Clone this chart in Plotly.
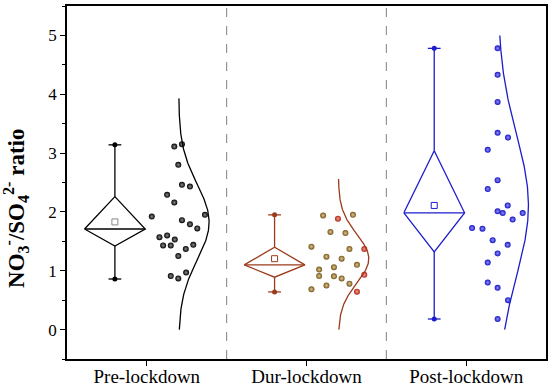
import numpy as np
import plotly.graph_objects as go

categories = ["Pre-lockdown", "Dur-lockdown", "Post-lockdown"]

# ratio values
pre_vals = [3.11, 3.15, 2.80, 2.46, 2.43, 2.29, 2.16, 1.95, 1.92, 1.86, 1.79, 1.72,
            1.57, 1.60, 1.53, 1.43, 1.43, 1.44, 1.37, 1.25, 0.91, 0.87, 0.97]
pre_jit = [0.172, 0.22, 0.197, 0.22, 0.27, 0.127, 0.172, 0.364, 0.031, 0.22, 0.27, 0.316,
           0.079, 0.127, 0.175, 0.102, 0.15, 0.291, 0.244, 0.197, 0.15, 0.197, 0.246]

dur_vals = [1.94, 1.885, 1.95, 1.66, 1.64, 1.41, 1.37, 1.37, 1.24, 1.205, 1.02,
            1.06, 1.10, 0.91, 0.905, 0.87, 0.93, 0.78, 0.685, 0.75, 0.645]
dur_jit = [0.104, 0.197, 0.291, 0.15, 0.244, 0.031, 0.269, 0.362, 0.125, 0.22, 0.079,
           0.172, 0.316, 0.079, 0.172, 0.22, 0.362, 0.269, 0.031, 0.125, 0.316]
dur_red = [1, 7, 16, 20]

post_vals = [4.78, 4.33, 3.87, 3.345, 3.265, 3.055, 2.54, 2.39, 2.11, 2.01, 1.98, 1.87,
             1.98, 1.725, 1.715, 1.52, 1.44, 1.295, 1.14, 0.80, 0.71, 0.50, 0.18]
post_jit = [0.197, 0.197, 0.197, 0.197, 0.262, 0.135, 0.197, 0.135, 0.26, 0.197, 0.229,
            0.291, 0.354, 0.037, 0.102, 0.166, 0.26, 0.197, 0.135, 0.135, 0.197, 0.262, 0.197]

# box (diamond) statistics
q1 = [1.42, 0.89, 1.32]
median = [1.71, 1.10, 1.985]
q3 = [2.26, 1.40, 3.04]
mean = [1.83, 1.205, 2.11]
vmin = [0.86, 0.64, 0.18]
vmax = [3.14, 1.95, 4.78]

# vertical extent of the distribution curves
curve_lo = [0.0, 0.0, 0.0]
curve_hi = [3.93, 2.56, 5.0]

values = [pre_vals, dur_vals, post_vals]
jitters = [pre_jit, dur_jit, post_jit]

line_colors = ["#000000", "#9c3b1b", "#1c1ccc"]
dot_colors = ["#000000", "#74541c", "#1414c0"]
dot_hi = ["#8c8c8c", "#e0c890", "#9090ff"]
mean_colors = ["#888888", "#9c3b1b", "#1c1ccc"]

BOX_OFF = -0.2
HALF_W = 0.19
CAP = 0.04
CURVE_OFF = 0.2
CURVE_AMP = 0.19
SERIF = "Times New Roman, Liberation Serif, serif"

fig = go.Figure()
for i, cat in enumerate(categories):
    c = i + 1
    bc = c + BOX_OFF
    w = HALF_W
    lc = line_colors[i]
    xs = [bc - w, bc, bc + w, bc, bc - w, None, bc - w, bc + w, None,
          bc, bc, None, bc, bc, None, bc - CAP, bc + CAP, None, bc - CAP, bc + CAP]
    ys = [median[i], q3[i], median[i], q1[i], median[i], None, median[i], median[i], None,
          q3[i], vmax[i], None, q1[i], vmin[i], None, vmax[i], vmax[i], None, vmin[i], vmin[i]]
    fig.add_trace(go.Scatter(x=xs, y=ys, mode="lines", line=dict(color=lc, width=1.3),
                             showlegend=False, hoverinfo="skip"))
    fig.add_trace(go.Scatter(x=[bc, bc], y=[vmax[i], vmin[i]], mode="markers",
                             marker=dict(symbol="circle", size=5, color=lc),
                             showlegend=False))
    fig.add_trace(go.Scatter(x=[bc], y=[mean[i]], mode="markers",
                             marker=dict(symbol="square-open", size=6, color=mean_colors[i],
                                         line=dict(width=1)),
                             showlegend=False))
    # data points
    vals = values[i]
    px = [c + j for j in jitters[i]]
    cols = [dot_colors[i]] * len(vals)
    his = [dot_hi[i]] * len(vals)
    if i == 1:
        for k in dur_red:
            cols[k] = "#b0241a"
            his[k] = "#f4a090"
    fig.add_trace(go.Scatter(x=px, y=vals, mode="markers",
                             marker=dict(size=6, color=cols,
                                         gradient=dict(type="radial", color=his),
                                         line=dict(width=0)),
                             showlegend=False))
    # normal distribution curve fitted to the data
    m = float(np.mean(vals))
    s = float(np.std(vals, ddof=1))
    yy = np.linspace(curve_lo[i], curve_hi[i], 200)
    xx = c + CURVE_OFF + CURVE_AMP * np.exp(-(yy - m) ** 2 / (2 * s ** 2))
    fig.add_trace(go.Scatter(x=xx, y=yy, mode="lines", line=dict(color=lc, width=1.3),
                             showlegend=False, hoverinfo="skip"))

for sx in [1.5, 2.5]:
    fig.add_shape(type="line", xref="x", yref="paper", x0=sx, x1=sx, y0=0, y1=1,
                  line=dict(color="#808080", width=1, dash="dash"))

fig.add_annotation(text="<b>NO<sub>3</sub><sup>-</sup>/SO<sub>4</sub><sup>2-</sup> ratio</b>",
                   xref="paper", yref="y", x=0, y=2.05, xanchor="center", yanchor="middle",
                   xshift=-51, textangle=-90, showarrow=False,
                   font=dict(family=SERIF, size=23, color="black"))

fig.update_layout(
    width=550, height=389,
    margin=dict(l=67, r=4, t=6, b=30),
    plot_bgcolor="white", paper_bgcolor="white",
    font=dict(family=SERIF, color="black"),
    xaxis=dict(range=[0.5, 3.5], tickvals=[1, 2, 3], ticktext=categories,
               showline=True, mirror=True, linecolor="black", linewidth=1.5,
               ticks="outside", ticklen=5, tickcolor="black", showgrid=False,
               zeroline=False, tickfont=dict(family=SERIF, size=19), automargin=False,
               ticklabelstandoff=-6),
    yaxis=dict(range=[-0.5, 5.5], tickvals=[0, 1, 2, 3, 4, 5],
               showline=True, mirror=True, linecolor="black", linewidth=1.5,
               ticks="outside", ticklen=5, tickcolor="black", showgrid=False,
               zeroline=False, tickfont=dict(family=SERIF, size=17), automargin=False,
               minor=dict(ticks="outside", dtick=0.5, tick0=0, ticklen=3, tickcolor="black")),
)

fig.write_html("out.html", config={"displayModeBar": False},
               post_script="document.body.style.margin='0';")
